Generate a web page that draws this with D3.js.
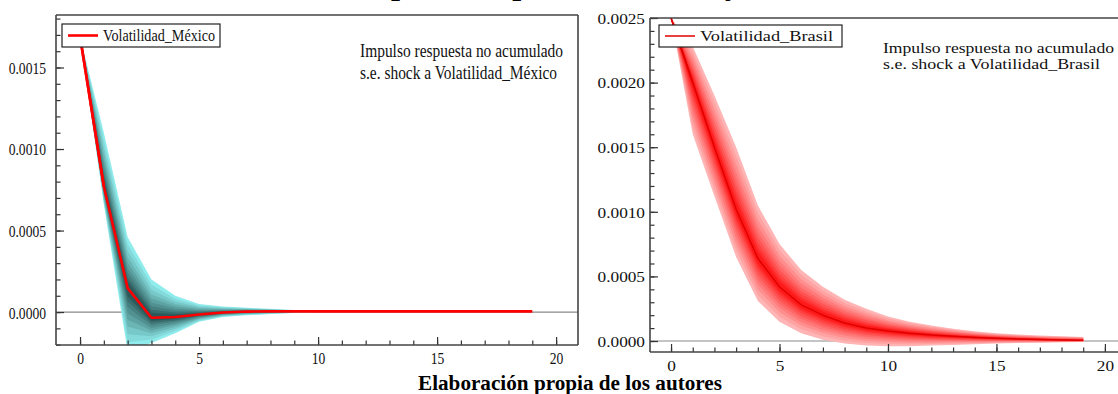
<!DOCTYPE html>
<html><head><meta charset="utf-8">
<script src="https://cdn.jsdelivr.net/npm/d3@7"></script>
<style>
body{margin:0;background:#fff;overflow:hidden;}
svg{display:block;font-family:"Liberation Serif","Times New Roman",serif;}
</style>
</head><body>
<svg id="chart" width="1118" height="394"></svg>
<script>
// ---------- DATA ----------
const horizons = [0,1,2,3,4,5,6,7,8,9,10,11,12,13,14,15,16,17,18,19];

const mexCenter = [0.00169,0.00077,0.000147,-0.000035,-0.00003,-0.000015,-0.000003,0.000003,0.000004,0.000004,0.000004,0.000004,0.000004,0.000004,0.000004,0.000004,0.000004,0.000004,0.000004,0.000004];
const mexUpper  = [0.00169,0.00110,0.00046,0.00020,0.00010,0.00005,0.000034,0.000026,0.00002,0.000012,0.000006,0.000004,0.000004,0.000004,0.000004,0.000004,0.000004,0.000004,0.000004,0.000004];
const mexLower  = [0.00169,0.00066,-0.00024,-0.00019,-0.00013,-0.00006,-0.00003,-0.00002,-0.000012,-0.000006,0.000002,0.000004,0.000004,0.000004,0.000004,0.000004,0.000004,0.000004,0.000004,0.000004];

const braCenter = [0.0025,0.00200,0.00150,0.00102,0.00064,0.00042,0.00028,0.00020,0.00014,0.00010,0.000078,0.00006,0.000046,0.000036,0.000028,0.000021,0.000016,0.000012,0.000008,0.000005];
const braUpper  = [0.0025,0.00228,0.00190,0.00150,0.00105,0.00075,0.00055,0.00042,0.00032,0.00025,0.00019,0.00015,0.00012,0.000095,0.000075,0.00006,0.00005,0.000042,0.000036,0.000032];
const braLower  = [0.0025,0.00160,0.00112,0.00065,0.00031,0.00015,0.00006,0.00001,-0.00002,-0.000035,-0.00004,-0.00004,-0.000035,-0.00003,-0.000025,-0.00002,-0.000016,-0.000013,-0.00001,-0.000008];

const mexYTicks = [0.0000,0.0005,0.0010,0.0015];
const braYTicks = [0.0000,0.0005,0.0010,0.0015,0.0020,0.0025];
const xTickLabels = [0,5,10,15,20];

const titleText = "Impulso respuesta, México y Brasil";
const captionText = "Elaboración propia de los autores";
const mexLegend = "Volatilidad_México";
const braLegend = "Volatilidad_Brasil";
const mexNote = ["Impulso respuesta no acumulado","s.e. shock a Volatilidad_México"];
const braNote = ["Impulso respuesta no acumulado","s.e. shock a Volatilidad_Brasil"];

// ---------- DRAW ----------
const svg = d3.select("#chart");
const SERIF = '"Liberation Serif","Times New Roman",serif';
const fanLevels = [1,0.86,0.73,0.61,0.5,0.4,0.3,0.21,0.13];

function panel(cfg){
  const x = d3.scaleLinear().domain(cfg.xDomain).range([cfg.left, cfg.xEnd]);
  const y = d3.scaleLinear().domain(cfg.yDomain).range([cfg.bottom, cfg.top]);
  const g = svg.append("g");
  const clipId = "clip"+cfg.id;
  g.append("clipPath").attr("id",clipId).append("rect")
    .attr("x",cfg.left).attr("y",cfg.top).attr("width",cfg.xEnd-cfg.left).attr("height",cfg.bottom-cfg.top);
  const plot = g.append("g").attr("clip-path",`url(#${clipId})`);

  // zero line
  plot.append("line").attr("x1",cfg.left).attr("x2",cfg.xEnd)
    .attr("y1",y(0)).attr("y2",y(0)).attr("stroke","#8a8a8a").attr("stroke-width",1.2);

  // fan
  const colorAt = d3.interpolateRgb(cfg.fanOuter, cfg.fanInner);
  fanLevels.forEach((f,i)=>{
    const area = d3.area()
      .x((d,j)=>x(horizons[j]))
      .y0((d,j)=>y(cfg.center[j] + f*(cfg.lower[j]-cfg.center[j])))
      .y1((d,j)=>y(cfg.center[j] + f*(cfg.upper[j]-cfg.center[j])));
    plot.append("path").datum(horizons).attr("d",area)
      .attr("fill",colorAt(i/(fanLevels.length-1)));
  });

  // centre line
  plot.append("path").datum(horizons)
    .attr("d",d3.line().x((d,j)=>x(horizons[j])).y((d,j)=>y(cfg.center[j])))
    .attr("fill","none").attr("stroke",cfg.lineColor).attr("stroke-width",cfg.lineWidth)
    .attr("stroke-linejoin","round");

  // axes: x minor + major
  const xa = g.append("g").attr("transform",`translate(0,${cfg.bottom})`);
  xa.call(d3.axisBottom(x).tickValues(horizons.concat([20])).tickSize(-4.5).tickFormat(""));
  const xb = g.append("g").attr("transform",`translate(0,${cfg.bottom})`);
  xb.call(d3.axisBottom(x).tickValues(xTickLabels).tickSize(-8).tickFormat(d3.format("d")));
  [xa,xb].forEach(a=>{a.select(".domain").remove(); a.selectAll("line").attr("stroke","#333").attr("stroke-width",1.2);});
  xb.selectAll("text").attr("y",0).attr("dy","0.35em")
    .attr("transform",`translate(0,${cfg.xLabPad}) scale(${cfg.sx},1)`)
    .attr("font-size",cfg.tickFont).attr("fill","#111").style("font-family",SERIF);

  // y axes
  const minorY = d3.range(Math.ceil(cfg.yDomain[0]*10000), Math.floor(cfg.yDomain[1]*10000)+1).map(v=>v/10000);
  const ya = g.append("g").attr("transform",`translate(${cfg.left},0)`);
  ya.call(d3.axisLeft(y).tickValues(minorY).tickSize(-4.5).tickFormat(""));
  const yb = g.append("g").attr("transform",`translate(${cfg.left},0)`);
  yb.call(d3.axisLeft(y).tickValues(cfg.yTicks).tickSize(-8).tickFormat(d3.format(".4f")));
  [ya,yb].forEach(a=>{a.select(".domain").remove(); a.selectAll("line").attr("stroke","#333").attr("stroke-width",1.2);});
  yb.selectAll("text").attr("x",0).attr("dy","0.35em")
    .attr("transform",`translate(${-cfg.yLabPad},0) scale(${cfg.sx},1)`)
    .attr("font-size",cfg.tickFont).attr("fill","#111").style("font-family",SERIF);

  // frame
  const fr = g.append("g").attr("stroke","#444").attr("stroke-width",1.6).attr("fill","none");
  fr.append("line").attr("x1",cfg.left).attr("x2",cfg.left).attr("y1",cfg.top).attr("y2",cfg.bottom);
  fr.append("line").attr("x1",cfg.left).attr("x2",cfg.xEnd).attr("y1",cfg.bottom).attr("y2",cfg.bottom);
  fr.append("line").attr("x1",cfg.left).attr("x2",cfg.xEnd).attr("y1",cfg.top).attr("y2",cfg.top);
  if(cfg.rightBorder) fr.append("line").attr("x1",cfg.xEnd).attr("x2",cfg.xEnd).attr("y1",cfg.top).attr("y2",cfg.bottom);

  // legend
  const L = cfg.legend;
  g.append("rect").attr("x",L.x).attr("y",L.y).attr("width",L.w).attr("height",L.h)
    .attr("fill","#fff").attr("stroke","#222").attr("stroke-width",1.2);
  g.append("line").attr("x1",L.x+6).attr("x2",L.x+36).attr("y1",L.y+L.h/2).attr("y2",L.y+L.h/2)
    .attr("stroke",cfg.lineColor).attr("stroke-width",cfg.lineWidth);
  g.append("text").attr("x",L.x+41).attr("y",L.y+L.h/2).attr("dy","0.35em")
    .attr("font-size",L.font).attr("textLength",L.len).attr("lengthAdjust","spacingAndGlyphs")
    .attr("fill","#111").text(L.text);
  // the response line passes over the legend box
  plot.append("path").datum(horizons.slice(0,2))
    .attr("d",d3.line().x((d,j)=>x(horizons[j])).y((d,j)=>y(cfg.center[j])))
    .attr("fill","none").attr("stroke",cfg.lineColor).attr("stroke-width",cfg.lineWidth);

  // note
  const N = cfg.note;
  N.lines.forEach((t,i)=>{
    g.append("text").attr("x",N.x).attr("y",N.y+i*N.dy).attr("font-size",N.font)
      .attr("textLength",N.lens[i]).attr("lengthAdjust","spacingAndGlyphs").attr("fill","#111").text(t);
  });
}

panel({
  id:"mex", left:56, xEnd:578, top:15, bottom:345,
  xDomain:[-1.01,20.92], yDomain:[-0.000202,0.001822],
  center:mexCenter, upper:mexUpper, lower:mexLower,
  fanOuter:"#90ecec", fanInner:"#2c5a5a",
  lineColor:"#ff0000", lineWidth:2.6,
  yTicks:mexYTicks, sx:0.8, tickFont:17, xLabPad:13, yLabPad:10, rightBorder:true,
  legend:{x:62,y:24,w:158,h:23,font:17,len:112,text:mexLegend},
  note:{x:360,y:57,dy:21.5,font:18,lens:[203,197],lines:mexNote}
});

panel({
  id:"bra", left:650, xEnd:1124, top:18, bottom:352,
  xDomain:[-0.97,20.88], yDomain:[-0.000085,0.0025],
  center:braCenter, upper:braUpper, lower:braLower,
  fanOuter:"#ffb5b5", fanInner:"#ff1a1a",
  lineColor:"#e00000", lineWidth:1.5,
  yTicks:braYTicks, sx:1.15, tickFont:15, xLabPad:14, yLabPad:5, rightBorder:false,
  legend:{x:659,y:25,w:183,h:22,font:15,len:133,text:braLegend},
  note:{x:883,y:53,dy:15.5,font:15.5,lens:[231,217],lines:braNote}
});

// title (cut off at the top edge, as in the source picture)
svg.append("text").attr("x",352).attr("y",-6).attr("font-size",32).attr("font-weight","bold")
  .attr("fill","#000").text(titleText);

// caption
svg.append("text").attr("x",418).attr("y",390).attr("font-size",20).attr("font-weight","bold")
  .attr("textLength",304).attr("lengthAdjust","spacingAndGlyphs").attr("fill","#000").text(captionText);
</script>
</body></html>
